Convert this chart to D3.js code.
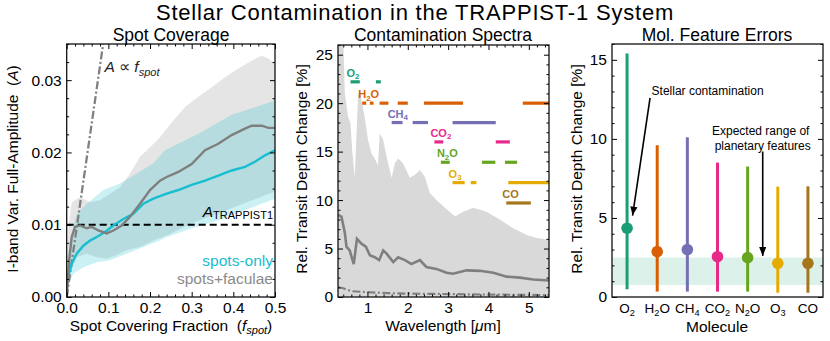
<!DOCTYPE html>
<html><head><meta charset="utf-8">
<script src="https://cdn.jsdelivr.net/npm/d3@7"></script>
<style>
body{margin:0;background:#fff}
svg text{font-family:"Liberation Sans",Arial,Helvetica,sans-serif;white-space:pre}
</style>
</head><body><script>
// ================= DATA =================
// Panel 1: Spot coverage
const fracTicks = [0, 0.1, 0.2, 0.3, 0.4, 0.5];
const ampTicks = [0, 0.01, 0.02, 0.03];
const aTrappist = 0.01;
const propLine = [[0, 0], [0.0875, 0.035]];
const spotsMedian = [[0.002,0.0025],[0.012,0.0046],[0.024,0.006],[0.04,0.0071],[0.056,0.0078],[0.072,0.0083],[0.092,0.009],[0.112,0.0099],[0.136,0.0108],[0.16,0.0115],[0.184,0.0129],[0.208,0.0136],[0.24,0.0143],[0.268,0.0148],[0.3,0.0155],[0.332,0.0161],[0.364,0.0168],[0.396,0.0175],[0.428,0.018],[0.452,0.0187],[0.476,0.0196],[0.5,0.0203]];
const spotsUpper = [[0.002,0.0055],[0.012,0.0088],[0.024,0.0115],[0.048,0.0129],[0.088,0.0148],[0.128,0.0157],[0.168,0.0171],[0.208,0.0185],[0.236,0.0203],[0.316,0.0226],[0.396,0.0252],[0.45,0.0262],[0.5,0.0272]];
const spotsLower = [[0.002,0.0014],[0.016,0.0032],[0.04,0.0041],[0.072,0.0048],[0.104,0.0051],[0.144,0.006],[0.184,0.0069],[0.224,0.0078],[0.236,0.0082],[0.3,0.0095],[0.364,0.0106],[0.428,0.012],[0.5,0.0136]];
const facMedian = [[0,0],[0.006,0.0051],[0.012,0.0083],[0.02,0.0097],[0.032,0.0099],[0.048,0.0095],[0.06,0.0097],[0.076,0.0092],[0.096,0.0088],[0.112,0.0092],[0.132,0.0099],[0.152,0.0111],[0.176,0.0129],[0.2,0.0148],[0.224,0.0161],[0.24,0.0166],[0.268,0.0173],[0.3,0.0184],[0.332,0.0203],[0.364,0.0212],[0.396,0.0224],[0.428,0.0233],[0.444,0.0237],[0.468,0.0237],[0.484,0.0234],[0.5,0.0234]];
const facUpper = [[0,0],[0.004,0.0097],[0.012,0.0131],[0.032,0.0138],[0.056,0.0131],[0.08,0.0134],[0.104,0.0143],[0.128,0.0152],[0.152,0.0171],[0.176,0.0194],[0.2,0.0207],[0.224,0.0221],[0.25,0.024],[0.284,0.0263],[0.316,0.0277],[0.348,0.029],[0.38,0.0304],[0.412,0.0316],[0.444,0.0327],[0.468,0.0334],[0.484,0.033],[0.5,0.0323]];
const facLower = [[0,0],[0.008,0.0032],[0.024,0.0055],[0.048,0.006],[0.072,0.0055],[0.096,0.0053],[0.12,0.0058],[0.144,0.0065],[0.176,0.0069],[0.208,0.0078],[0.24,0.0085],[0.3,0.0102],[0.364,0.0116],[0.428,0.013],[0.5,0.0146]];

// Panel 2: Contamination spectra
const waveTicks = [1, 2, 3, 4, 5];
const depthTicks = [0, 5, 10, 15, 20, 25];
const specUpper = [[0.27,27],[0.40,26.5],[0.44,21.0],[0.52,18.6],[0.58,17.9],[0.62,15.2],[0.685,12.3],[0.74,18],[0.77,21.0],[0.81,21.2],[0.93,18.6],[1.015,16.2],[1.10,14.8],[1.18,14.3],[1.26,13.6],[1.305,16.9],[1.39,16.2],[1.51,13.8],[1.60,12.3],[1.68,13.8],[1.76,14.3],[1.88,13.8],[2.05,12.3],[2.17,12.6],[2.30,13.1],[2.42,12.4],[2.55,10.7],[2.71,10.0],[2.92,9.2],[3.17,8.3],[3.37,8.8],[3.62,9.2],[3.95,8.8],[4.28,8.0],[4.61,7.1],[4.95,6.4],[5.19,6.1],[5.5,5.9]];
const specMedian = [[0.27,8.5],[0.30,8.4],[0.355,8.3],[0.44,6.6],[0.48,5.2],[0.56,4.8],[0.66,3.4],[0.74,6.0],[0.85,5.5],[0.96,5.2],[1.06,4.3],[1.18,4.1],[1.29,3.8],[1.39,4.8],[1.47,4.5],[1.64,3.6],[1.76,4.1],[1.93,3.8],[2.09,3.4],[2.30,3.8],[2.46,3.1],[2.71,2.9],[2.96,2.5],[3.12,2.4],[3.46,2.75],[3.79,2.7],[4.12,2.5],[4.45,2.1],[4.78,2.0],[5.11,1.8],[5.5,1.7]];
const specLower = [[0.27,1.0],[0.4,0.9],[0.6,0.6],[1.0,0.5],[1.5,0.4],[2.0,0.35],[3.0,0.3],[4.0,0.25],[5.5,0.2]];
const bandLevels = [22.2, 20, 18, 16, 13.9, 11.8, 9.7];
const bandSegments = [
  [[0.58,0.81],[1.21,1.33]],
  [[0.87,0.97],[1.06,1.15],[1.30,1.52],[1.75,2.0],[2.4,3.37],[4.85,5.5]],
  [[1.60,1.87],[2.12,2.50],[3.11,4.18]],
  [[2.66,2.88],[4.18,4.53]],
  [[2.82,3.04],[3.84,4.17],[4.41,4.71]],
  [[3.11,3.41],[3.56,3.70],[4.49,5.5]],
  [[4.44,5.05]]
];

// Panel 3: Molecular feature errors
const molecules = ["O2","H2O","CH4","CO2","N2O","O3","CO"];
const molColors = ["#1b9e77","#d95f02","#7570b3","#e7298a","#66a61e","#e6ab02","#a6761d"];
const errMedian = [4.35, 2.87, 3.0, 2.55, 2.49, 2.13, 2.13];
const errLow = [0.49, 0.34, 0.34, 0.34, 0.34, 0.27, 0.27];
const errHigh = [15.4, 9.6, 10.1, 8.5, 8.25, 6.98, 7.0];
const planetRange = [0.76, 2.5];
const errTicks = [0, 5, 10, 15];

// ================= SETUP =================
const W = 830, H = 341;
const svg = d3.select("body").append("svg").attr("width", W).attr("height", H);
const FS = 15.5;

function chem(sel, str, size, ratio) {
  const parts = str.match(/[A-Za-z]+|\d+/g);
  let shifted = false;
  parts.forEach(p => {
    const isNum = /\d/.test(p);
    const t = sel.append("tspan").text(p);
    if (isNum) { t.attr("font-size", size * ratio).attr("dy", size * 0.22); shifted = true; }
    else if (shifted) { t.attr("dy", -size * 0.22); shifted = false; }
  });
}

function axes(g, x, y, cfg) {
  const [xa, xb] = x.range(); const [yb, ya] = y.range();
  const noDom = s => s.select(".domain").remove();
  const style = s => s.attr("font-size", FS).attr("font-family", null).selectAll("line").attr("stroke", "#000");
  if (cfg.xMajor) {
    g.append("g").attr("transform", `translate(0,${yb})`)
      .call(d3.axisBottom(x).tickValues(cfg.xMajor).tickFormat(cfg.xFmt).tickSizeInner(-5).tickSizeOuter(0).tickPadding(5))
      .call(noDom).call(style);
    g.append("g").attr("transform", `translate(0,${yb})`)
      .call(d3.axisBottom(x).tickValues(cfg.xMinor).tickFormat(() => "").tickSizeInner(-2.5).tickSizeOuter(0))
      .call(noDom).call(style);
    g.append("g").attr("transform", `translate(0,${ya})`)
      .call(d3.axisTop(x).tickValues(cfg.xMajor).tickFormat(() => "").tickSizeInner(-5).tickSizeOuter(0))
      .call(noDom).call(style);
    g.append("g").attr("transform", `translate(0,${ya})`)
      .call(d3.axisTop(x).tickValues(cfg.xMinor).tickFormat(() => "").tickSizeInner(-2.5).tickSizeOuter(0))
      .call(noDom).call(style);
  }
  g.append("g").attr("transform", `translate(${xa},0)`)
    .call(d3.axisLeft(y).tickValues(cfg.yMajor).tickFormat(cfg.yFmt).tickSizeInner(-5).tickSizeOuter(0).tickPadding(5))
    .call(noDom).call(style);
  g.append("g").attr("transform", `translate(${xa},0)`)
    .call(d3.axisLeft(y).tickValues(cfg.yMinor).tickFormat(() => "").tickSizeInner(-2.5).tickSizeOuter(0))
    .call(noDom).call(style);
  g.append("g").attr("transform", `translate(${xb},0)`)
    .call(d3.axisRight(y).tickValues(cfg.yMajor).tickFormat(() => "").tickSizeInner(-5).tickSizeOuter(0))
    .call(noDom).call(style);
  g.append("g").attr("transform", `translate(${xb},0)`)
    .call(d3.axisRight(y).tickValues(cfg.yMinor).tickFormat(() => "").tickSizeInner(-2.5).tickSizeOuter(0))
    .call(noDom).call(style);
  g.append("rect").attr("x", xa).attr("y", ya).attr("width", xb - xa).attr("height", yb - ya)
    .attr("fill", "none").attr("stroke", "#111").attr("stroke-width", 1.3);
}

function clip(id, x, y) {
  const [xa, xb] = x.range(); const [yb, ya] = y.range();
  svg.append("clipPath").attr("id", id).append("rect")
    .attr("x", xa).attr("y", ya).attr("width", xb - xa).attr("height", yb - ya);
}

// Main title
svg.append("text").attr("x", 415).attr("y", 20.3).attr("text-anchor", "middle")
  .attr("font-size", 22).attr("letter-spacing", 0.8).text("Stellar Contamination in the TRAPPIST-1 System");

// ================= PANEL 1 =================
const x1 = d3.scaleLinear().domain([0, 0.5]).range([66.7, 275]);
const y1 = d3.scaleLinear().domain([0, 0.035]).range([297, 44]);
clip("c1", x1, y1);
const g1 = svg.append("g");
const p1 = g1.append("g").attr("clip-path", "url(#c1)");
const line1 = d3.line().x(d => x1(d[0])).y(d => y1(d[1]));
const band = (up, lo) => line1(up.concat(lo.slice().reverse())) + "Z";

p1.append("path").attr("d", band(facUpper, facLower)).attr("fill", "#7f7f7f").attr("fill-opacity", 0.2);
p1.append("path").attr("d", band(spotsUpper, spotsLower)).attr("fill", "#17becf").attr("fill-opacity", 0.22);
p1.append("path").attr("d", line1(propLine)).attr("fill", "none").attr("stroke", "#808080")
  .attr("stroke-width", 2.3).attr("stroke-dasharray", "8,2.5,2,2.5");
p1.append("line").attr("x1", x1(0)).attr("x2", x1(0.5)).attr("y1", y1(aTrappist)).attr("y2", y1(aTrappist))
  .attr("stroke", "#000").attr("stroke-width", 2).attr("stroke-dasharray", "7,4");
p1.append("path").attr("d", line1(spotsMedian)).attr("fill", "none").attr("stroke", "#17becf").attr("stroke-width", 2.4);
p1.append("path").attr("d", line1(facMedian)).attr("fill", "none").attr("stroke", "#7f7f7f").attr("stroke-width", 2.4);

axes(g1, x1, y1, {
  xMajor: fracTicks, xMinor: d3.range(0, 0.5001, 0.02).filter(v => Math.abs(v * 10 - Math.round(v * 10)) > 1e-6),
  xFmt: d3.format(".1f"),
  yMajor: ampTicks, yMinor: d3.range(0, 0.0351, 0.0025).filter(v => Math.abs(v * 100 - Math.round(v * 100)) > 1e-6),
  yFmt: d3.format(".2f")
});

// texts panel 1
const t1 = g1.append("text").attr("x", x1(0.0905)).attr("y", 72).attr("font-size", 15.5).attr("fill", "#222");
t1.append("tspan").attr("font-style", "italic").text("A");
t1.append("tspan").text(" \u221D ");
t1.append("tspan").attr("font-style", "italic").text("f");
t1.append("tspan").attr("font-style", "italic").attr("font-size", 11).attr("dy", 4).text("spot");

const t2 = g1.append("text").attr("x", 273).attr("y", 217).attr("text-anchor", "end").attr("font-size", 15.5);
t2.append("tspan").attr("font-style", "italic").text("A");
t2.append("tspan").attr("font-size", 11).attr("dy", 2).text("TRAPPIST1");

g1.append("text").attr("x", 273).attr("y", 266).attr("text-anchor", "end").attr("font-size", 15.5)
  .attr("fill", "#17becf").text("spots-only");
g1.append("text").attr("x", 273).attr("y", 284).attr("text-anchor", "end").attr("font-size", 15.5)
  .attr("fill", "#8a8a8a").text("spots+faculae");

g1.append("text").attr("x", 171).attr("y", 41).attr("text-anchor", "middle").attr("font-size", 17.5).text("Spot Coverage");
const xl1 = g1.append("text").attr("x", 171).attr("y", 331).attr("text-anchor", "middle").attr("font-size", 15.5);
xl1.append("tspan").text("Spot Covering Fraction  (");
xl1.append("tspan").attr("font-style", "italic").text("f");
xl1.append("tspan").attr("font-style", "italic").attr("font-size", 11).attr("dy", 3).text("spot");
xl1.append("tspan").attr("dy", -3).text(")");
const yl1 = g1.append("text").attr("transform", "translate(18,169) rotate(-90)").attr("text-anchor", "middle").attr("font-size", 15.5);
yl1.append("tspan").text("I-band Var. Full-Amplitude  (");
yl1.append("tspan").attr("font-style", "italic").text("A");
yl1.append("tspan").text(")");

// ================= PANEL 2 =================
const x2 = d3.scaleLinear().domain([0.27, 5.5]).range([338, 549]);
const y2 = d3.scaleLinear().domain([0, 26]).range([297, 45]);
clip("c2", x2, y2);
const g2 = svg.append("g");
const p2 = g2.append("g").attr("clip-path", "url(#c2)");
const area2 = d3.area().x(d => x2(d[0])).y0(y2(0)).y1(d => y2(d[1]));
const line2 = d3.line().x(d => x2(d[0])).y(d => y2(d[1]));
p2.append("path").attr("d", area2(specUpper)).attr("fill", "#d9d9d9");
p2.append("path").attr("d", line2(specLower)).attr("fill", "none").attr("stroke", "#808080")
  .attr("stroke-width", 2.2).attr("stroke-dasharray", "8,2.5,2,2.5");
p2.append("path").attr("d", line2(specMedian)).attr("fill", "none").attr("stroke", "#7f7f7f").attr("stroke-width", 2.6);

molecules.forEach((m, i) => {
  bandSegments[i].forEach(s => {
    p2.append("line").attr("x1", x2(s[0])).attr("x2", x2(s[1]))
      .attr("y1", y2(bandLevels[i])).attr("y2", y2(bandLevels[i]))
      .attr("stroke", molColors[i]).attr("stroke-width", 3.2);
  });
  const lab = g2.append("text").attr("x", x2(bandSegments[i][0][0]) - 4).attr("y", y2(bandLevels[i]) - 5)
    .attr("font-size", 11).attr("font-weight", "bold").attr("fill", molColors[i]);
  chem(lab, m, 11, 0.72);
});

axes(g2, x2, y2, {
  xMajor: waveTicks, xMinor: d3.range(0.4, 5.5, 0.2).filter(v => Math.abs(v - Math.round(v)) > 1e-6),
  xFmt: d3.format("d"),
  yMajor: depthTicks, yMinor: d3.range(0, 26.01, 1).filter(v => v % 5 !== 0),
  yFmt: d3.format("d")
});
g2.append("text").attr("x", 443).attr("y", 41).attr("text-anchor", "middle").attr("font-size", 17.5).text("Contamination Spectra");
const xl2 = g2.append("text").attr("x", 443).attr("y", 331).attr("text-anchor", "middle").attr("font-size", 15.5);
xl2.append("tspan").text("Wavelength [");
xl2.append("tspan").attr("font-style", "italic").text("\u03BC");
xl2.append("tspan").text("m]");
g2.append("text").attr("transform", "translate(307,169) rotate(-90)").attr("text-anchor", "middle")
  .attr("font-size", 15.5).text("Rel. Transit Depth Change [%]");

// ================= PANEL 3 =================
const x3 = d3.scalePoint().domain(molecules).range([612, 823]).padding(0.5);
const y3 = d3.scaleLinear().domain([0, 16]).range([297, 44]);
clip("c3", x3, y3);
const g3 = svg.append("g");
const p3 = g3.append("g").attr("clip-path", "url(#c3)");
p3.append("rect").attr("x", 612).attr("width", 211).attr("y", y3(planetRange[1]))
  .attr("height", y3(planetRange[0]) - y3(planetRange[1])).attr("fill", "#1b9e77").attr("fill-opacity", 0.15);
molecules.forEach((m, i) => {
  p3.append("line").attr("x1", x3(m)).attr("x2", x3(m)).attr("y1", y3(errLow[i])).attr("y2", y3(errHigh[i]))
    .attr("stroke", molColors[i]).attr("stroke-width", 3);
  p3.append("circle").attr("cx", x3(m)).attr("cy", y3(errMedian[i])).attr("r", 5.8).attr("fill", molColors[i]);
});
axes(g3, x3, y3, {
  yMajor: errTicks, yMinor: d3.range(0, 16.01, 1).filter(v => v % 5 !== 0), yFmt: d3.format("d")
});
molecules.forEach(m => {
  const t = g3.append("text").attr("x", x3(m)).attr("y", 313).attr("text-anchor", "middle").attr("font-size", 13.5);
  chem(t, m, 13.5, 0.68);
});

// annotations
const defs = svg.append("defs");
defs.append("marker").attr("id", "arr").attr("viewBox", "0 0 10 10").attr("refX", 10).attr("refY", 5)
  .attr("markerWidth", 9).attr("markerHeight", 9).attr("markerUnits", "userSpaceOnUse").attr("orient", "auto")
  .append("path").attr("d", "M0,1 L10,5 L0,9 Z").attr("fill", "#000");
g3.append("line").attr("x1", x3("O2") + 23).attr("y1", y3(12.6)).attr("x2", x3("O2") + 5.5).attr("y2", y3(5.15))
  .attr("stroke", "#000").attr("stroke-width", 1.6).attr("marker-end", "url(#arr)");
g3.append("text").attr("x", x3("O2") + 24.5).attr("y", 95).attr("font-size", 12).text("Stellar contamination");
const midX = (x3("N2O") + x3("O3")) / 2;
g3.append("line").attr("x1", midX).attr("y1", y3(9.2)).attr("x2", midX).attr("y2", y3(2.6))
  .attr("stroke", "#000").attr("stroke-width", 1.6).attr("marker-end", "url(#arr)");
g3.append("text").attr("x", midX - 2).attr("y", 134.5).attr("text-anchor", "middle").attr("font-size", 12).text("Expected range of");
g3.append("text").attr("x", midX).attr("y", 149.5).attr("text-anchor", "middle").attr("font-size", 12).text("planetary features");

g3.append("text").attr("x", 717).attr("y", 41).attr("text-anchor", "middle").attr("font-size", 17.5).text("Mol. Feature Errors");
g3.append("text").attr("x", 717).attr("y", 332).attr("text-anchor", "middle").attr("font-size", 15.5).text("Molecule");
g3.append("text").attr("transform", "translate(582,169) rotate(-90)").attr("text-anchor", "middle")
  .attr("font-size", 15.5).text("Rel. Transit Depth Change [%]");
</script></body></html>
